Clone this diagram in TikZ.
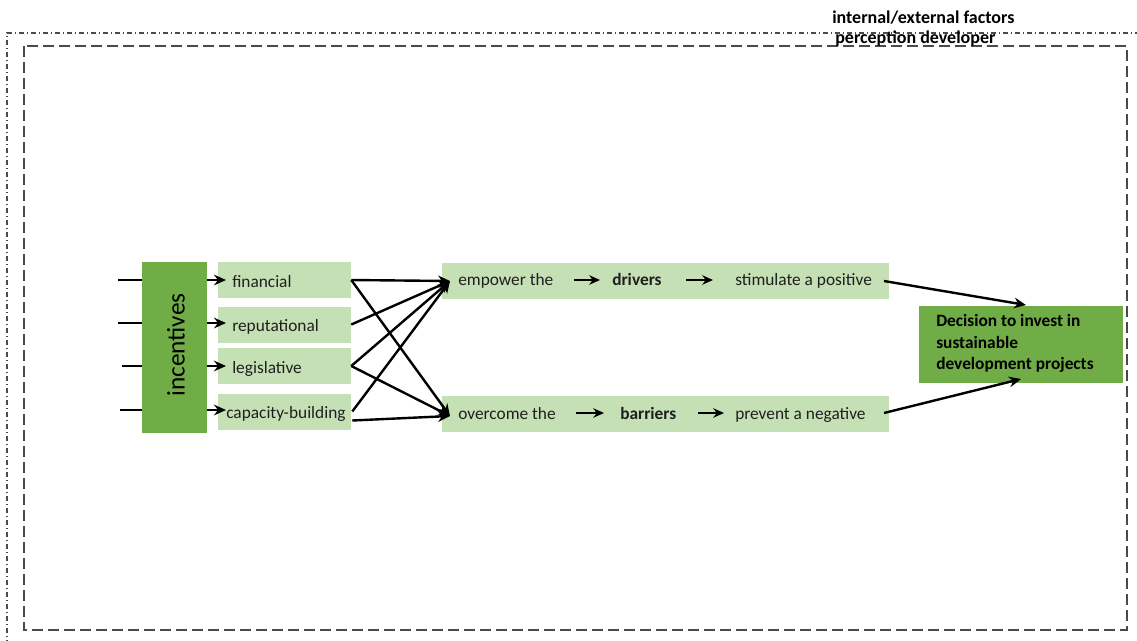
\documentclass[tikz,border=0pt]{standalone}
\usepackage{fontspec}
\setmainfont{Carlito}
\usetikzlibrary{arrows.meta,calc}
\definecolor{dkgreen}{HTML}{70AD47}
\definecolor{ltgreen}{HTML}{C5E0B4}
\definecolor{framegray}{HTML}{4A4A4A}
\begin{document}
\begin{tikzpicture}[x=0.75pt,y=-0.75pt,
  lbox/.style={fill=ltgreen,draw=none,inner sep=0,minimum height=27pt},
  dbox/.style={fill=dkgreen,draw=none,inner sep=0},
  lbl/.style={font=\fontsize{13}{15}\selectfont,inner sep=0,anchor=base west,text=black!88},
  blbl/.style={lbl,font=\fontsize{13}{15}\selectfont\bfseries},
  conn/.style={line width=1.8pt,-{Stealth[length=9pt,width=8pt,inset=3pt]}},
  inl/.style={line width=1.6pt,-{Stealth[length=8pt,width=7pt,inset=2.5pt]}},
  plain/.style={line width=1.8pt},
  outerframe/.style={framegray,line width=0.9pt,dash pattern=on 4pt off 2pt on 1pt off 2pt},
  innerframe/.style={framegray,line width=1pt,dash pattern=on 8pt off 4pt}]
\useasboundingbox (0,0) rectangle (1137,640);

% frames
\draw[outerframe] (7,645) -- (7,33) -- (1145,33);
\draw[innerframe] (24,46) rectangle (1127,630);
\node[font=\fontsize{13.5}{15}\selectfont\bfseries,inner sep=0,anchor=base west] (tf1) at (832,23) {internal/external factors};
\node[font=\fontsize{13.5}{15}\selectfont\bfseries,inner sep=0,anchor=base west] (tf2) at (835,43) {perception developer};

% incentives block
\node[dbox,minimum width=48.75pt,minimum height=128.25pt] (inc) at (174.5,347.5) {};
\node[rotate=90,font=\fontsize{19}{21}\selectfont,inner sep=0] (inct) at (176,345) {incentives};

% incentive types
\node[lbox,minimum width=99.75pt] (fin) at (284.5,280) {};
\node[lbox,minimum width=99.75pt] (rep) at (284.5,324.5) {};
\node[lbox,minimum width=99.75pt] (leg) at (284.5,366) {};
\node[lbox,minimum width=99.75pt] (cap) at (284.5,411.5) {};
\node[lbl] (fint) at (232,287) {financial};
\node[lbl] (rept) at (232,331.5) {reputational};
\node[lbl] (legt) at (232,373) {legislative};
\node[lbl] (capt) at (226,418) {capacity-building};

% inputs on the left
\coordinate (i1) at (118,280);
\coordinate (i2) at (118,323);
\coordinate (i3) at (122,366);
\coordinate (i4) at (120,410);
\draw[plain] (i1) -- (inc.west |- i1);
\draw[plain] (i2) -- (inc.west |- i2);
\draw[plain] (i3) -- (inc.west |- i3);
\draw[plain] (i4) -- (inc.west |- i4);

% from incentives to each type
\coordinate (a1) at (226,280);
\coordinate (a2) at (226,323);
\coordinate (a3) at (226,366);
\coordinate (a4) at (226,410);
\draw[conn] (inc.east |- a1) -- (a1);
\draw[conn] (inc.east |- a2) -- (a2);
\draw[conn] (inc.east |- a3) -- (a3);
\draw[conn] (inc.east |- a4) -- (a4);

% driver and barrier rows
\node[lbox,minimum width=335.25pt] (emp) at (665.5,280.5) {};
\node[lbox,minimum width=335.25pt] (ovc) at (665.5,413.5) {};
\node[lbl] (e1) at (458,285.5) {empower the};
\node[blbl] (e2) at (612,285.5) {drivers};
\node[lbl] (e3) at (735,285.5) {stimulate a positive};
\node[lbl] (o1) at (458,419) {overcome the};
\node[blbl] (o2) at (620,419) {barriers};
\node[lbl] (o3) at (735,419) {prevent a negative};
\draw[inl] (574,280) -- (600,280);
\draw[inl] (686,280) -- (713,280);
\draw[inl] (576,413) -- (604,413);
\draw[inl] (698,413) -- (724,413);

% crossing links
\coordinate (ein) at (450,281);
\coordinate (oin) at (450,416);
\draw[conn] (fin.east) -- (ein);
\draw[conn] (fin.east) -- (oin);
\draw[conn] (rep.east) -- (ein);
\draw[conn] (leg.east) -- (ein);
\draw[conn] (leg.east) -- (oin);
\draw[conn] ($(cap.east)+(1,0)$) -- (ein);
\draw[conn] ($(cap.east)+(1,9)$) -- (oin);

% decision
\node[dbox,minimum width=153pt,minimum height=57.75pt] (dec) at (1021,344.5) {};
\node[blbl,text=black] (d1) at (936,326) {Decision to invest in};
\node[blbl,text=black] (d2) at (936,348) {sustainable};
\node[blbl,text=black] (d3) at (936,369.5) {development projects};
\draw[conn] (884,281) -- (1026,305);
\draw[conn] (884,413) -- (1021,379);
\end{tikzpicture}
\end{document}
